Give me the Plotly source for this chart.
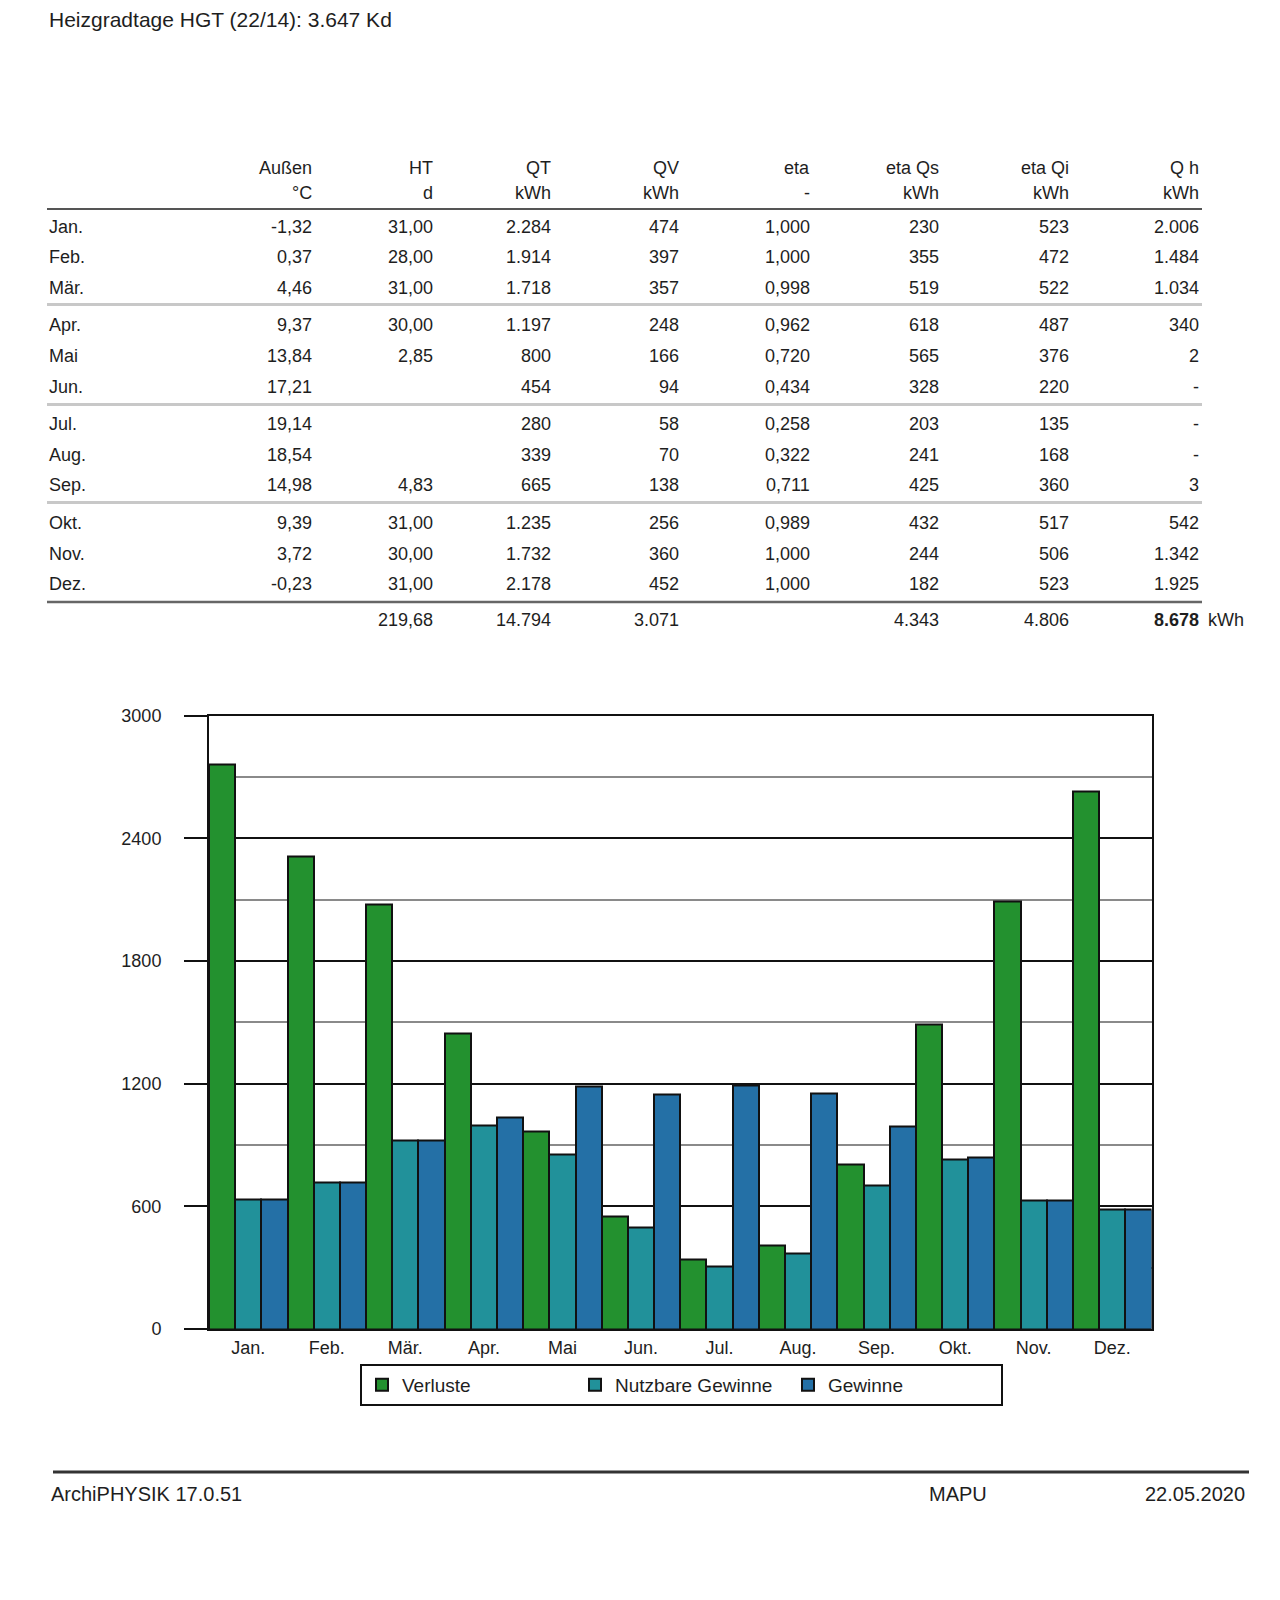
import plotly.graph_objects as go

# ---------------- data ----------------
months = ["Jan.", "Feb.", "Mär.", "Apr.", "Mai", "Jun.", "Jul.", "Aug.", "Sep.", "Okt.", "Nov.", "Dez."]
verluste = [2758, 2311, 2075, 1445, 966, 548, 338, 409, 803, 1491, 2092, 2630]
nutzbare_gewinne = [632, 716, 922, 995, 855, 498, 307, 370, 702, 831, 630, 585]
gewinne = [632, 716, 924, 1034, 1188, 1145, 1192, 1151, 988, 840, 630, 585]
y_ticks = [0, 600, 1200, 1800, 2400, 3000]

title_text = "Heizgradtage HGT (22/14): 3.647 Kd"
col_names = ["Außen", "HT", "QT", "QV", "eta", "eta Qs", "eta Qi", "Q h"]
col_units = ["°C", "d", "kWh", "kWh", "-", "kWh", "kWh", "kWh"]
aussen = ["-1,32", "0,37", "4,46", "9,37", "13,84", "17,21", "19,14", "18,54", "14,98", "9,39", "3,72", "-0,23"]
ht = ["31,00", "28,00", "31,00", "30,00", "2,85", "", "", "", "4,83", "31,00", "30,00", "31,00"]
qt = ["2.284", "1.914", "1.718", "1.197", "800", "454", "280", "339", "665", "1.235", "1.732", "2.178"]
qv = ["474", "397", "357", "248", "166", "94", "58", "70", "138", "256", "360", "452"]
eta = ["1,000", "1,000", "0,998", "0,962", "0,720", "0,434", "0,258", "0,322", "0,711", "0,989", "1,000", "1,000"]
eta_qs = ["230", "355", "519", "618", "565", "328", "203", "241", "425", "432", "244", "182"]
eta_qi = ["523", "472", "522", "487", "376", "220", "135", "168", "360", "517", "506", "523"]
q_h = ["2.006", "1.484", "1.034", "340", "2", "-", "-", "-", "3", "542", "1.342", "1.925"]
totals = ["", "219,68", "14.794", "3.071", "", "4.343", "4.806", "8.678"]
footer_left = "ArchiPHYSIK 17.0.51"
footer_mid = "MAPU"
footer_right = "22.05.2020"

W, H = 1280, 1600
FONT = "Liberation Sans, Arial, Helvetica, sans-serif"
TXT = "#1e1e1e"


def px(x):
    return x / W


def py(y):
    return 1 - y / H


fig = go.Figure()
colors = ["#23912f", "#21919a", "#2470a6"]
names = ["Verluste", "Nutzbare Gewinne", "Gewinne"]
for name, vals, col in zip(names, [verluste, nutzbare_gewinne, gewinne], colors):
    fig.add_trace(go.Bar(
        x=months, y=vals, name=name,
        marker=dict(color=col, line=dict(color="#111111", width=2)),
        hoverinfo="x+y+name",
    ))

annotations = []
shapes = []


def text(t, x, y, anchor, size):
    annotations.append(dict(text=t, x=px(x), y=py(y), xref="paper", yref="paper",
                            xanchor=anchor, yanchor="middle", showarrow=False,
                            font=dict(size=size, color=TXT, family=FONT)))


# title
text(title_text, 47, 20, "left", 21)

# table
col_x = [314.4, 434.8, 553.2, 680.8, 811.5, 941.1, 1070.7, 1201.4]
for cx, nm, un in zip(col_x, col_names, col_units):
    text(nm, cx, 168, "right", 18)
    text(un, cx, 193, "right", 18)

columns = [aussen, ht, qt, qv, eta, eta_qs, eta_qi, q_h]
for i, m in enumerate(months):
    ry = 226.6 + i * 30.6 + (i // 3) * 7.0
    text(m, 47, ry, "left", 18)
    for cx, col in zip(col_x, columns):
        if col[i]:
            text(col[i], cx, ry, "right", 18)

for k, (cx, tv) in enumerate(zip(col_x, totals)):
    if not tv:
        continue
    t = "<b>" + tv + "</b>" if k == len(totals) - 1 else tv
    text(t, cx, 619.6, "right", 18)
text("kWh", 1206, 619.6, "left", 18)


def hline(y, x0, x1, color, width):
    shapes.append(dict(type="line", xref="paper", yref="paper", x0=px(x0), x1=px(x1),
                       y0=py(y), y1=py(y), line=dict(color=color, width=width)))


hline(209, 47, 1202, "#555555", 2)
for yy in (304.5, 404.5, 502.5):
    hline(yy, 47, 1202, "#c8c8c8", 3)
hline(602, 47, 1202, "#666666", 2.5)

# footer
hline(1472, 53, 1249, "#333333", 3)
text(footer_left, 49, 1494, "left", 20)
text(footer_mid, 927, 1494, "left", 20)
text(footer_right, 1247, 1494, "right", 20)

fig.update_layout(
    width=W, height=H,
    margin=dict(l=0, r=0, t=0, b=0, pad=0, autoexpand=False),
    paper_bgcolor="white", plot_bgcolor="white",
    font=dict(family=FONT, color=TXT, size=18),
    barmode="group", bargap=0, bargroupgap=0,
    annotations=annotations, shapes=shapes,
    showlegend=True,
    legend=dict(orientation="h", x=px(360), y=py(1364), xanchor="left", yanchor="top",
                bordercolor="#111111", borderwidth=2, bgcolor="white",
                font=dict(size=19, color=TXT, family=FONT),
                entrywidth=168, entrywidthmode="pixels", itemclick=False),
    xaxis=dict(domain=[px(209), px(1151.5)], showline=True, mirror=True,
               linecolor="#111111", linewidth=2, ticks="", showgrid=False,
               tickfont=dict(size=18, color=TXT, family=FONT), ticklabelstandoff=1,
               automargin=False, fixedrange=True),
    yaxis=dict(domain=[py(1329), py(715.5)], range=[0, 3000], tickvals=y_ticks,
               showline=True, mirror=True, linecolor="#111111", linewidth=2,
               ticks="outside", ticklen=23, tickwidth=2, tickcolor="#111111",
               showgrid=True, gridcolor="#111111", gridwidth=2,
               minor=dict(dtick=300, showgrid=True, gridcolor="#8a8a8a", gridwidth=1.5, ticks=""),
               tickfont=dict(size=18, color=TXT, family=FONT), ticklabelstandoff=19,
               zeroline=False, automargin=False, fixedrange=True),
)

fig.write_html("out.html", config={"displayModeBar": False},
               post_script="document.body.style.margin='0';")
